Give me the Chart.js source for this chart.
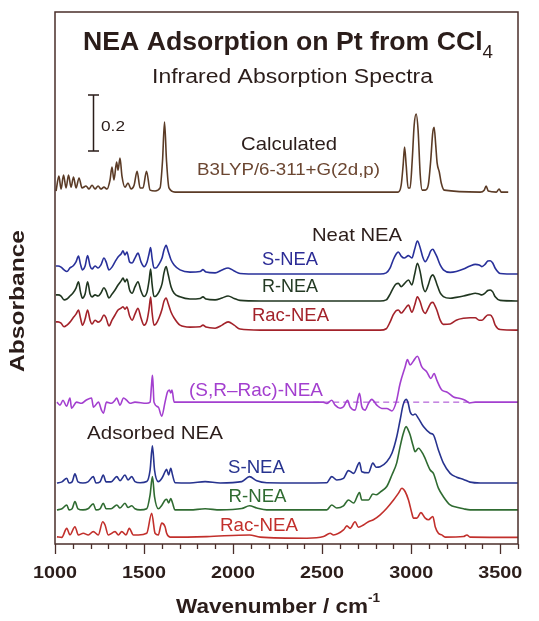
<!DOCTYPE html>
<html>
<head>
<meta charset="utf-8">
<script src="https://cdn.jsdelivr.net/npm/chart.js@4.4.1/dist/chart.umd.min.js"></script>
<style>
 html, body { margin: 0; padding: 0; background: #fff; }
 canvas { display: block; }
</style>
</head>
<body>
<canvas id="spectra" width="539" height="621"></canvas>
<script>
// Calculated spectrum (B3LYP), absorbance above its own baseline
const wnCalc = [
 1006,1022,1034,1048,1062,1076,1090,1104,1118,1135,
 1152,1174,1191,1208,1225,1242,1258,1275,1292,1309,
 1320,1331,1346,1354,1365,1376,1393,1410,1427,1444,
 1461,1478,1494,1514,1534,1562,1590,1604,1615,1626,
 1640,1674,2096,2927,2944,2955,2963,2972,2983,2994,
 3006,3017,3028,3039,3051,3062,3079,3096,3110,3121,
 3129,3138,3146,3158,3169,3186,3388,3410,3421,3433,
 3478,3494,3506,3545];
const absCalc = [
 .004,.058,.011,.062,.015,.062,.018,.055,.015,.051,
 .015,.022,.011,.025,.011,.022,.011,.018,.011,.044,
 .091,.044,.109,.080,.124,.058,.018,.033,.011,.025,
 .076,.015,.015,.076,.007,.004,.015,.116,.255,.116,
 .015,0,0,0,.025,.098,.164,.098,.015,.015,
 .116,.244,.284,.225,.062,.007,.007,.025,.116,.215,
 .236,.171,.105,.073,.033,.007,0,.007,.022,.004,
 0,.011,0,0];

// Neat NEA spectra (same wavenumber grid)
const wnNeat = [
 1005,1017,1034,1051,1067,1084,1101,1118,1132,1143,
 1154,1169,1183,1197,1208,1225,1242,1258,1275,1287,
 1303,1320,1337,1354,1371,1382,1393,1404,1419,1433,
 1449,1466,1483,1500,1517,1528,1537,1545,1556,1567,
 1584,1601,1612,1624,1635,1652,1669,1702,1758,1815,
 1831,1848,1899,1938,1972,2006,2039,2152,2826,2860,
 2882,2899,2916,2928,2944,2961,2985,3004,3020,3035,
 3051,3065,3079,3096,3110,3122,3132,3144,3163,3181,
 3219,3253,3294,3331,3360,3382,3397,3416,3430,3444,
 3458,3472,3500,3601];
const absNeatS = [
 .029,.029,.025,.015,.009,.022,.029,.044,.065,.036,
 .015,.029,.067,.029,.018,.029,.022,.033,.058,.044,
 .015,.025,.044,.062,.073,.084,.069,.080,.044,.040,
 .058,.076,.044,.027,.044,.073,.096,.058,.022,.022,
 .036,.058,.087,.104,.084,.051,.033,.015,.007,.009,
 .016,.007,.004,.015,.022,.011,.002,0,0,.004,
 .022,.051,.073,.080,.065,.058,.067,.058,.091,.120,
 .095,.062,.045,.062,.084,.090,.080,.064,.033,.015,
 .006,.009,.018,.029,.035,.033,.027,.036,.047,.048,
 .040,.021,.002,0];
const absNeatR = [
 .022,.022,.018,.004,.007,.018,.029,.047,.070,.033,
 .010,.025,.070,.025,.015,.022,.018,.029,.048,.036,
 .011,.025,.040,.058,.073,.083,.069,.080,.040,.028,
 .051,.070,.036,.016,.033,.073,.116,.062,.016,.018,
 .033,.062,.102,.125,.098,.051,.028,.015,.007,.009,
 .015,.007,.004,.011,.018,.009,.002,0,0,.004,
 .025,.047,.062,.064,.052,.062,.076,.058,.098,.137,
 .105,.055,.034,.058,.087,.095,.084,.062,.029,.016,
 .010,.013,.018,.024,.028,.025,.022,.029,.038,.040,
 .033,.015,.002,0];
const absNeatRac = [
 .030,.030,.025,.012,.018,.029,.044,.058,.073,.044,
 .018,.040,.073,.036,.022,.036,.029,.036,.055,.044,
 .015,.036,.055,.073,.080,.085,.076,.084,.051,.036,
 .058,.079,.044,.018,.036,.076,.120,.065,.018,.022,
 .044,.076,.105,.117,.098,.065,.044,.018,.011,.012,
 .018,.011,.007,.018,.030,.018,.004,0,0,.005,
 .030,.055,.071,.073,.062,.073,.091,.065,.091,.121,
 .102,.073,.061,.080,.098,.101,.091,.073,.036,.021,
 .022,.036,.043,.045,.045,.036,.036,.047,.055,.055,
 .044,.018,.002,0];

// Difference spectrum (S,R - Rac) of adsorbed NEA
const wnDiff = [
 1011,1028,1045,1065,1084,1093,1121,1149,1174,1205,
 1216,1244,1261,1272,1289,1317,1337,1346,1365,1385,
 1402,1421,1449,1514,1534,1542,1547,1551,1556,1580,
 1599,1618,1631,1642,1650,1657,1669,1815,2506,2526,
 2554,2573,2601,2620,2643,2657,2685,2710,2723,2741,
 2760,2779,2807,2835,2863,2892,2916,2938,2966,2979,
 2994,3013,3035,3060,3088,3111,3129,3144,3172,3200,
 3238,3275,3303,3328,3360,3601];
const absDiff = [
 0,-.011,.007,-.015,.015,-.022,0,-.004,.007,.015,
 -.018,0,-.029,-.040,0,-.004,.007,.015,-.011,.015,
 .007,-.004,0,-.004,0,.062,.098,.062,0,-.018,
 -.051,0,.036,.044,.033,.044,0,0,0,-.005,
 .007,-.011,-.022,-.017,.007,-.017,-.029,.032,-.017,-.029,
 -.005,.010,-.011,-.023,-.023,-.032,0,.068,.128,.155,
 .135,.150,.167,.128,.110,.086,.104,.080,.044,.037,
 .019,.013,.007,-.003,0,0];
const wnDiffZero = [2450, 3330];

// Adsorbed NEA, S and R enantiomers (same grid)
const wnAds = [
 1011,1039,1066,1079,1096,1112,1129,1157,1185,1215,
 1230,1253,1271,1287,1315,1347,1365,1393,1410,1431,
 1449,1478,1515,1534,1547,1559,1580,1601,1618,1627,
 1638,1650,1660,1674,1758,1843,1927,2049,2092,2133,
 2189,2376,2526,2554,2582,2620,2648,2677,2710,2723,
 2760,2785,2803,2826,2863,2892,2919,2938,2955,2972,
 2983,2994,3011,3022,3041,3069,3107,3125,3153,3181,
 3219,3256,3294,3331,3388,3601];
const absAdsS = [
 0,.004,.017,0,.004,.033,.004,0,.004,.023,
 0,.004,.029,.004,.004,.023,.008,.029,.011,.023,
 .005,.001,.005,.047,.135,.047,.005,.018,.041,.050,
 .029,.053,.029,.001,0,.005,0,.005,.023,.008,
 .001,0,.001,.023,.011,.017,.045,.035,.074,.041,
 .037,.072,.057,.059,.077,.108,.168,.229,.284,.304,
 .291,.259,.247,.251,.235,.205,.181,.175,.120,.072,
 .035,.021,.013,.003,0,0];
const absAdsR = [
 0,.004,.018,0,.004,.030,.004,0,.004,.022,
 0,.004,.024,.004,.004,.018,.007,.024,.009,.015,
 .004,0,.004,.055,.121,.047,.004,.018,.036,.039,
 .025,.041,.025,0,0,.004,0,.005,.015,.007,
 0,0,0,.018,.007,.015,.036,.025,.063,.036,
 .036,.058,.055,.065,.085,.127,.171,.230,.276,.303,
 .291,.273,.233,.212,.224,.200,.145,.133,.079,.048,
 .018,.010,.004,0,0,0];

// Adsorbed racemic NEA
const wnAdsRac = [
 1011,1038,1066,1084,1112,1131,1159,1187,1215,1243,
 1268,1281,1299,1337,1356,1375,1399,1417,1440,1468,
 1515,1543,1562,1580,1599,1618,1627,1646,1852,2092,
 2152,2414,2508,2545,2564,2620,2639,2657,2685,2704,
 2732,2760,2788,2826,2863,2901,2929,2948,2966,2985,
 3004,3013,3032,3055,3079,3097,3122,3135,3153,3172,
 3191,3294,3313,3331,3601];
const absAdsRac = [
 .002,0,.033,.009,.039,.009,.015,.009,.021,.009,
 .057,.045,.009,.021,.009,.021,.009,.033,.009,.009,
 .015,.088,.015,.009,.052,.039,.015,.001,.003,.009,
 .001,-.003,.003,.015,.009,.027,.042,.033,.057,.037,
 .045,.057,.064,.082,.106,.136,.161,.179,.167,.136,
 .088,.070,.070,.090,.070,.064,.076,.039,.015,.009,
 .001,.003,.009,.001,0];

const xTickLabels = [1000, 1500, 2000, 2500, 3000, 3500];

// vertical stacking of the traces (absorbance of each baseline)
const traces = [
 { wn: wnCalc, abs: absCalc, base: 1.28, color: "#5b3b26" },
 { wn: wnNeat, abs: absNeatS, base: 0.982, color: "#28309a" },
 { wn: wnNeat, abs: absNeatR, base: 0.884, color: "#203620" },
 { wn: wnNeat, abs: absNeatRac, base: 0.778, color: "#a3222a" },
 { wn: wnDiff, abs: absDiff, base: 0.516, color: "#a33fcf" },
 { wn: wnAds, abs: absAdsS, base: 0.222, color: "#27338f" },
 { wn: wnAds, abs: absAdsR, base: 0.124, color: "#2f6b31" },
 { wn: wnAdsRac, abs: absAdsRac, base: 0.024, color: "#c2302c" },
];

const datasets = traces.map((t) => ({
 data: t.wn.map((w, i) => ({ x: w, y: t.base + t.abs[i] })),
 borderColor: t.color,
 borderWidth: 1.6,
 pointRadius: 0,
 fill: false,
 cubicInterpolationMode: "monotone",
}));
// dashed zero line under the difference spectrum
datasets.push({
 data: wnDiffZero.map((w) => ({ x: w, y: 0.516 })),
 borderColor: "#a33fcf",
 borderWidth: 1,
 borderDash: [6, 4],
 pointRadius: 0,
 fill: false,
});

const dark = "#2b1d1a";

// draw text squeezed/stretched horizontally to a target width
function stretchText(ctx, parts, cx, cy, targetW, color) {
 let total = 0;
 parts.forEach((p) => {
  ctx.font = `${p.bold ? "bold " : ""}${p.size}px "Liberation Sans", Arial, sans-serif`;
  p.w = ctx.measureText(p.t).width;
  total += p.w;
 });
 const sx = targetW / total;
 let x = cx - targetW / 2;
 ctx.save();
 ctx.fillStyle = color;
 ctx.textBaseline = "middle";
 ctx.textAlign = "left";
 parts.forEach((p) => {
  ctx.font = `${p.bold ? "bold " : ""}${p.size}px "Liberation Sans", Arial, sans-serif`;
  ctx.save();
  ctx.translate(x, cy + (p.dy || 0));
  ctx.scale(sx, 1);
  ctx.fillText(p.t, 0, 0);
  ctx.restore();
  x += p.w * sx;
 });
 ctx.restore();
}

const overlay = {
 id: "overlay",
 afterDraw(chart) {
  const ctx = chart.ctx;
  const a = chart.chartArea;
  const xs = chart.scales.x;

  // frame
  ctx.save();
  ctx.strokeStyle = "#4a2e2a";
  ctx.lineWidth = 1.5;
  ctx.strokeRect(a.left, a.top, a.right - a.left, a.bottom - a.top);

  // ticks below the frame
  ctx.lineWidth = 1.3;
  for (let w = 1000; w <= 3600; w += 100) {
   const px = Math.round(xs.getPixelForValue(w)) + 0.5;
   const len = w % 500 === 0 ? 10 : 5;
   ctx.beginPath();
   ctx.moveTo(px, a.bottom);
   ctx.lineTo(px, a.bottom + len);
   ctx.stroke();
  }
  ctx.restore();

  xTickLabels.forEach((v) => {
   stretchText(ctx, [{ t: String(v), size: 17, bold: true }], xs.getPixelForValue(v), 573, 44, dark);
  });

  // axis titles
  stretchText(ctx, [
   { t: "Wavenumber / cm", size: 20, bold: true },
   { t: "-1", size: 12, bold: true, dy: -8 },
  ], 278, 607, 204, dark);

  ctx.save();
  ctx.translate(18, 301);
  ctx.rotate(-Math.PI / 2);
  stretchText(ctx, [{ t: "Absorbance", size: 20, bold: true }], 0, 0, 142, dark);
  ctx.restore();

  // titles
  stretchText(ctx, [
   { t: "NEA Adsorption on Pt from CCl", size: 25.5, bold: true },
   { t: "4", size: 18, dy: 10 },
  ], 288, 43, 410, dark);
  stretchText(ctx, [{ t: "Infrared Absorption Spectra", size: 20 }], 292.5, 77, 281, dark);

  // scale bar
  ctx.save();
  ctx.strokeStyle = dark;
  ctx.lineWidth = 1.5;
  ctx.beginPath();
  ctx.moveTo(93.5, 95); ctx.lineTo(93.5, 151);
  ctx.moveTo(88, 95); ctx.lineTo(99, 95);
  ctx.moveTo(88, 151); ctx.lineTo(99, 151);
  ctx.stroke();
  ctx.restore();
  stretchText(ctx, [{ t: "0.2", size: 15.5 }], 113, 127, 24, dark);

  // trace labels
  stretchText(ctx, [{ t: "Calculated", size: 19 }], 289, 145, 96, dark);
  stretchText(ctx, [{ t: "B3LYP/6-311+G(2d,p)", size: 17 }], 288.5, 170, 183, "#6b4631");
  stretchText(ctx, [{ t: "Neat NEA", size: 19 }], 357, 236, 90, dark);
  stretchText(ctx, [{ t: "S-NEA", size: 19 }], 290, 260, 56, "#2c2c96");
  stretchText(ctx, [{ t: "R-NEA", size: 19 }], 290, 287, 56, "#243a24");
  stretchText(ctx, [{ t: "Rac-NEA", size: 19 }], 290.5, 316, 77, "#a3222a");
  stretchText(ctx, [{ t: "(S,R\u2013Rac)-NEA", size: 19 }], 256, 391, 134, "#a33fcf");
  stretchText(ctx, [{ t: "Adsorbed NEA", size: 19 }], 155, 434, 136, dark);
  stretchText(ctx, [{ t: "S-NEA", size: 19 }], 256.5, 468, 57, "#27338f");
  stretchText(ctx, [{ t: "R-NEA", size: 19 }], 257.5, 497, 58, "#2f6b31");
  stretchText(ctx, [{ t: "Rac-NEA", size: 19 }], 259, 526, 78, "#c2302c");
 },
};

new Chart(document.getElementById("spectra"), {
 type: "line",
 data: { datasets: datasets },
 options: {
  responsive: false,
  animation: false,
  devicePixelRatio: 1,
  layout: { padding: { left: 55, right: 21, top: 12, bottom: 77 } },
  plugins: { legend: { display: false }, tooltip: { enabled: false } },
  scales: {
   x: { type: "linear", min: 1000, max: 3600, display: false },
   y: { type: "linear", min: 0, max: 1.935, display: false },
  },
 },
 plugins: [overlay],
});
</script>
</body>
</html>
